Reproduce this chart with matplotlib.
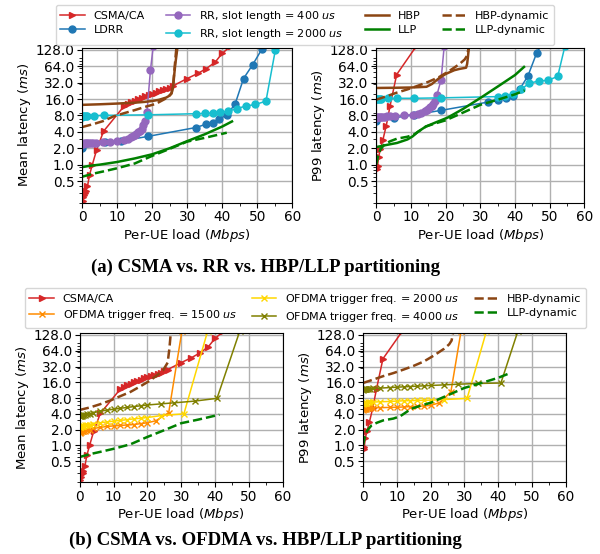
import numpy as np
import matplotlib
matplotlib.use("Agg")
import matplotlib.pyplot as plt
from matplotlib.ticker import FixedLocator, NullFormatter, MultipleLocator

# ---- data ----
# CSMA/CA (same runs in (a) and (b))
csma_x = [0.1, 0.3, 0.5, 0.8, 1.0, 1.5, 2.1, 2.9, 4.1, 6.1, 12.0, 13.0, 14.0, 15.0, 16.0, 17.0, 18.0, 19.0,
          20.0, 21.0, 22.0, 23.0, 24.0, 25.0, 26.0, 30.0, 33.0, 35.5, 38.0, 40.0, 42.5]
csma_mean = [0.22, 0.25, 0.28, 0.3, 0.33, 0.4, 0.65, 1.0, 1.85, 4.1, 11.9, 13, 14, 15, 16.2, 17, 18, 19,
             20, 21, 22, 23, 24.5, 26, 28, 38, 47, 58, 76, 110, 150]
csma_p99_x = [0.2, 0.4, 0.7, 1.2, 1.9, 2.9, 4.0, 5.9, 11.6]
csma_p99 = [0.85, 0.95, 1.4, 1.9, 2.8, 5.2, 12, 45, 150]

# LDRR
ldrr_x = [0, 6.5, 11, 18.8, 32.5, 35.3, 37.3, 39.2, 41.3, 43.7, 46.1, 48.7, 51.3, 52.5]
ldrr_mean = [2.0, 2.55, 2.7, 3.3, 4.8, 5.5, 5.9, 6.9, 8.1, 13, 38, 68, 130, 200]
ldrr_p99_x = [0, 5, 11, 18.7, 32.1, 35, 37.5, 39.5, 41.3, 43.7, 46.3, 48]
ldrr_p99 = [6.4, 7.2, 8.2, 9.9, 14, 15.5, 17, 18.5, 24, 42, 114, 170]

# RR, slot length = 400 us
rr400_x = [0, 0.3, 0.6, 1, 1.5, 2, 2.5, 3, 4, 6, 8, 10, 12, 13, 14, 14.5, 15, 15.5, 16, 16.5, 17, 17.5,
           18, 18.5, 19.5, 20.3]
rr400_mean = [2.4, 2.42, 2.45, 2.45, 2.45, 2.47, 2.5, 2.5, 2.52, 2.58, 2.65, 2.75, 2.85, 3.0, 3.15, 3.3,
              3.45, 3.65, 3.9, 4.2, 4.6, 5.3, 6.3, 9.3, 54, 150]
rr400_p99_x = [0, 0.3, 0.6, 1, 1.5, 2, 2.5, 3, 4, 5.5, 8, 10.5, 12, 13, 14, 14.5, 15, 15.5, 16, 16.5, 17,
               17.5, 18.7, 19.6]
rr400_p99 = [7.3, 7.4, 7.5, 7.5, 7.6, 7.6, 7.6, 7.7, 7.7, 7.8, 8.1, 8.3, 8.6, 9.0, 9.5, 9.9, 10.5, 11.2,
             12, 13, 14.5, 19, 36, 150]

# RR, slot length = 2000 us
rr2000_x = [0, 0.3, 0.6, 1, 1.5, 3.3, 6.1, 18.8, 32.4, 35, 37.3, 39.5, 41.6, 44.2, 46.8, 49.5, 52.5, 55.2]
rr2000_mean = [7.6, 7.7, 7.8, 7.8, 7.9, 7.9, 8.0, 8.2, 8.6, 8.7, 8.9, 9.1, 9.5, 10.7, 11.9, 12.7, 14.6, 128]
rr2000_p99_x = [0, 0.3, 0.6, 1, 1.5, 3.3, 5.9, 10.8, 18.7, 35, 37.1, 39.3, 41.7, 44.1, 47, 49.4, 52.3, 54.4]
rr2000_p99 = [15.8, 16, 16.2, 16.2, 16.3, 16.4, 16.5, 16.5, 16.8, 17.7, 18.3, 19.6, 24, 31, 34.5, 35,
              41.5, 150]

# HBP / LLP static partitioning
hbp_x = [0, 5, 10, 15, 18, 20, 22, 24, 25, 25.6, 26, 26.3, 26.6, 27, 27.3]
hbp_mean = [12.5, 12.8, 13.2, 13.7, 14.2, 14.7, 15.5, 17, 18.5, 21, 28, 45, 70, 110, 160]
hbp_p99_x = [0, 5, 10, 14.5, 16, 18, 20, 22.5, 24, 25.9, 26.2, 26.4, 26.6, 26.8]
hbp_p99 = [25.5, 25.7, 26, 26.8, 30, 38, 46, 54, 57, 60, 70, 90, 120, 160]

llp_x = [0, 2, 5, 10, 15, 20, 25, 30, 35, 40, 42.8]
llp_mean = [0.9, 0.95, 1.0, 1.12, 1.3, 1.55, 2.0, 2.7, 3.6, 5.0, 6.2]
llp_p99_x = [0, 3, 6, 9, 10.5, 12, 14.3, 17, 20.6, 25, 30.2, 35, 40, 42.6]
llp_p99 = [2.1, 2.3, 2.5, 2.9, 3.3, 4.0, 5.0, 5.9, 7.3, 10.5, 17, 27, 44, 62]

# dynamic partitioning
hbpdyn_a_x = [0, 3, 6, 9, 12, 15, 18, 21, 24, 25.5, 26, 26.3, 26.7, 27]
hbpdyn_mean_a = [4.9, 5.5, 6.3, 7.7, 8.8, 10, 11.5, 13, 16.5, 20, 30, 50, 100, 160]
hbpdyn_b_x = [0, 3, 6, 9.3, 12, 15, 18, 20.6, 23, 24.6, 26, 26.5, 27]
hbpdyn_mean_b = [4.75, 5.3, 6.1, 7.3, 8.7, 10.5, 13.5, 17, 22, 27, 38, 70, 160]
hbpdyn_p99_x = [0, 3, 6, 9, 12, 15, 18, 21, 24, 25.5, 26.2, 26.5, 26.8]
hbpdyn_p99 = [15.5, 18, 21, 24, 28, 33, 40, 52, 70, 85, 100, 125, 160]

llpdyn_x = [0, 3, 6, 10, 15, 20, 25, 30, 35, 41.3]
llpdyn_mean = [0.6, 0.68, 0.75, 0.86, 1.05, 1.45, 1.95, 2.65, 3.1, 3.85]
llpdyn_p99_x = [0, 0.5, 1.2, 2.5, 4.1, 6, 9, 11, 14.3, 17, 20, 25, 30, 35, 40, 42.8]
llpdyn_p99 = [1.0, 1.4, 1.9, 2.4, 2.7, 3.0, 3.25, 3.6, 5.0, 5.7, 6.5, 9, 12.5, 15.5, 19.5, 23]

# OFDMA trigger freq.
ofdma1500_x = [0, 0.2, 0.4, 0.6, 0.8, 1, 1.5, 2, 3, 4, 6, 8, 10, 12, 14, 16, 18, 20, 22.5, 26.3, 30.2]
ofdma1500_mean = [1.75, 1.8, 1.8, 1.85, 1.85, 1.9, 1.9, 1.95, 2.0, 2.1, 2.2, 2.3, 2.35, 2.4, 2.45, 2.5,
                  2.6, 2.7, 2.95, 4.2, 150]
ofdma1500_p99_x = [0, 0.2, 0.4, 0.6, 0.8, 1, 1.5, 2, 3, 5, 8, 10, 12, 14, 16, 18, 20, 22.6, 26, 29]
ofdma1500_p99 = [4.8, 4.9, 5.0, 5.0, 5.05, 5.1, 5.1, 5.15, 5.2, 5.25, 5.3, 5.35, 5.4, 5.5, 5.55, 5.65,
                 5.8, 6.5, 10.5, 150]

ofdma2000_x = [0, 0.2, 0.4, 0.6, 0.8, 1, 1.5, 2, 3, 4, 6, 8, 10, 12, 14, 16, 18, 20, 24, 30.8, 37.8]
ofdma2000_mean = [2.2, 2.25, 2.3, 2.3, 2.35, 2.35, 2.4, 2.45, 2.5, 2.6, 2.7, 2.8, 2.9, 3.0, 3.1, 3.2,
                  3.3, 3.4, 3.7, 4.0, 150]
ofdma2000_p99_x = [0, 0.2, 0.4, 0.6, 0.8, 1, 1.5, 2, 3, 5, 8, 10, 12, 14, 16, 18, 20, 24, 30.8, 36.5]
ofdma2000_p99 = [6.2, 6.3, 6.4, 6.4, 6.5, 6.5, 6.6, 6.6, 6.7, 6.8, 6.9, 7.0, 7.1, 7.15, 7.2, 7.25, 7.3,
                 7.5, 7.9, 150]

ofdma4000_x = [0, 0.2, 0.4, 0.6, 0.8, 1, 1.5, 2, 3, 4, 6, 8, 10, 12, 14, 16, 18, 20, 24, 28, 34, 40.6, 47.3]
ofdma4000_mean = [3.6, 3.65, 3.7, 3.7, 3.75, 3.8, 3.85, 3.9, 4.0, 4.2, 4.5, 4.7, 4.9, 5.1, 5.3, 5.5, 5.7,
                  5.9, 6.2, 6.5, 7.0, 7.9, 150]
ofdma4000_p99_x = [0, 0.2, 0.4, 0.6, 0.8, 1, 1.5, 2, 3, 5, 8, 10, 12, 14, 16, 18, 20, 24, 28, 34, 40.8, 45.8]
ofdma4000_p99 = [11.5, 11.7, 11.8, 11.8, 11.9, 12, 12, 12.1, 12.2, 12.4, 12.7, 12.9, 13.1, 13.3, 13.5,
                 13.7, 13.9, 14.3, 14.7, 15.2, 15.5, 150]

yticks = [0.5, 1, 2, 4, 8, 16, 32, 64, 128]

RED = "#d62728"
BLUE = "#1f77b4"
PURPLE = "#9467bd"
CYAN = "#17becf"
BROWN = "#8b4513"
GREEN = "#008000"
ORANGE = "#ff8c00"
GOLD = "#ffd700"
OLIVE = "#808000"

plt.rcParams["font.family"] = "DejaVu Sans"
plt.rcParams["font.size"] = 9.5

fig = plt.figure(figsize=(6, 5.54), dpi=100)


def style(ax, ylabel):
    ax.set_yscale("log")
    ax.set_ylim(0.2, 140)
    ax.set_xlim(0, 60)
    ax.yaxis.set_major_locator(FixedLocator(yticks))
    ax.set_yticklabels(["%.1f" % v for v in yticks])
    ax.yaxis.set_minor_formatter(NullFormatter())
    ax.xaxis.set_major_locator(MultipleLocator(10))
    ax.xaxis.set_minor_locator(MultipleLocator(5))
    ax.grid(True, which="major", color="#b0b0b0", linewidth=1.0)
    ax.set_axisbelow(True)
    ax.set_xlabel("Per-UE load ($\\mathit{Mbps}$)", labelpad=2)
    ax.set_ylabel(ylabel, labelpad=2)
    ax.tick_params(axis="both", labelsize=9.8, pad=2)


mk = dict(linewidth=1.1, markersize=5)

# ---- (a) ----
axes_a = [fig.add_axes([0.137, 0.634, 0.35, 0.28]), fig.add_axes([0.627, 0.634, 0.347, 0.28])]
series_a = [
    (csma_x, csma_mean, csma_p99_x, csma_p99),
    (ldrr_x, ldrr_mean, ldrr_p99_x, ldrr_p99),
    (rr400_x, rr400_mean, rr400_p99_x, rr400_p99),
    (rr2000_x, rr2000_mean, rr2000_p99_x, rr2000_p99),
    (hbp_x, hbp_mean, hbp_p99_x, hbp_p99),
    (llp_x, llp_mean, llp_p99_x, llp_p99),
    (hbpdyn_a_x, hbpdyn_mean_a, hbpdyn_p99_x, hbpdyn_p99),
    (llpdyn_x, llpdyn_mean, llpdyn_p99_x, llpdyn_p99),
]
styles_a = [
    dict(color=RED, marker=">", label="CSMA/CA", **mk),
    dict(color=BLUE, marker="o", label="LDRR", **mk),
    dict(color=PURPLE, marker="o", label="RR, slot length = 400 $\\mathit{us}$", **mk),
    dict(color=CYAN, marker="o", label="RR, slot length = 2000 $\\mathit{us}$", **mk),
    dict(color=BROWN, linewidth=1.8, label="HBP"),
    dict(color=GREEN, linewidth=1.8, label="LLP"),
    dict(color=BROWN, linewidth=1.8, linestyle="--", label="HBP-dynamic"),
    dict(color=GREEN, linewidth=1.8, linestyle="--", label="LLP-dynamic"),
]
for k, ax in enumerate(axes_a):
    for (mx, my, px, py), st in zip(series_a, styles_a):
        if k == 0:
            ax.plot(mx, my, **st)
        else:
            ax.plot(px, py, **st)
style(axes_a[0], "Mean latency ($\\mathit{ms}$)")
style(axes_a[1], "P99 latency ($\\mathit{ms}$)")
h, l = axes_a[0].get_legend_handles_labels()
fig.legend(h, l, loc="center", bbox_to_anchor=(0.508, 0.955), ncol=4, fontsize=8,
           handlelength=2.2, columnspacing=1.9, borderaxespad=0.2, labelspacing=0.3)

# ---- (b) ----
axes_b = [fig.add_axes([0.133, 0.13, 0.338, 0.269]), fig.add_axes([0.605, 0.13, 0.338, 0.269])]
mx4 = dict(linewidth=1.1, markersize=4)
series_b = [
    (csma_x, csma_mean, csma_p99_x, csma_p99),
    (ofdma1500_x, ofdma1500_mean, ofdma1500_p99_x, ofdma1500_p99),
    (ofdma2000_x, ofdma2000_mean, ofdma2000_p99_x, ofdma2000_p99),
    (ofdma4000_x, ofdma4000_mean, ofdma4000_p99_x, ofdma4000_p99),
    (hbpdyn_b_x, hbpdyn_mean_b, hbpdyn_p99_x, hbpdyn_p99),
    (llpdyn_x, llpdyn_mean, llpdyn_p99_x, llpdyn_p99),
]
styles_b = [
    dict(color=RED, marker=">", label="CSMA/CA", **mk),
    dict(color=ORANGE, marker="x", label="OFDMA trigger freq. = 1500 $\\mathit{us}$", **mx4),
    dict(color=GOLD, marker="x", label="OFDMA trigger freq. = 2000 $\\mathit{us}$", **mx4),
    dict(color=OLIVE, marker="x", label="OFDMA trigger freq. = 4000 $\\mathit{us}$", **mx4),
    dict(color=BROWN, linewidth=1.8, linestyle="--", label="HBP-dynamic"),
    dict(color=GREEN, linewidth=1.8, linestyle="--", label="LLP-dynamic"),
]
for k, ax in enumerate(axes_b):
    for (mx, my, px, py), st in zip(series_b, styles_b):
        if k == 0:
            ax.plot(mx, my, **st)
        else:
            ax.plot(px, py, **st)
style(axes_b[0], "Mean latency ($\\mathit{ms}$)")
style(axes_b[1], "P99 latency ($\\mathit{ms}$)")
h, l = axes_b[0].get_legend_handles_labels()
fig.legend(h, l, loc="center", bbox_to_anchor=(0.509, 0.444), ncol=3, fontsize=8,
           handlelength=2.2, columnspacing=1.3, borderaxespad=0.2, labelspacing=0.3)

# captions
fig.text(0.442, 0.517, "(a) CSMA vs. RR vs. HBP/LLP partitioning", ha="center", va="center",
         family="Liberation Serif", fontweight="bold", fontsize=13.5)
fig.text(0.442, 0.025, "(b) CSMA vs. OFDMA vs. HBP/LLP partitioning", ha="center", va="center",
         family="Liberation Serif", fontweight="bold", fontsize=13.5)

fig.savefig("out.png", dpi=100)
